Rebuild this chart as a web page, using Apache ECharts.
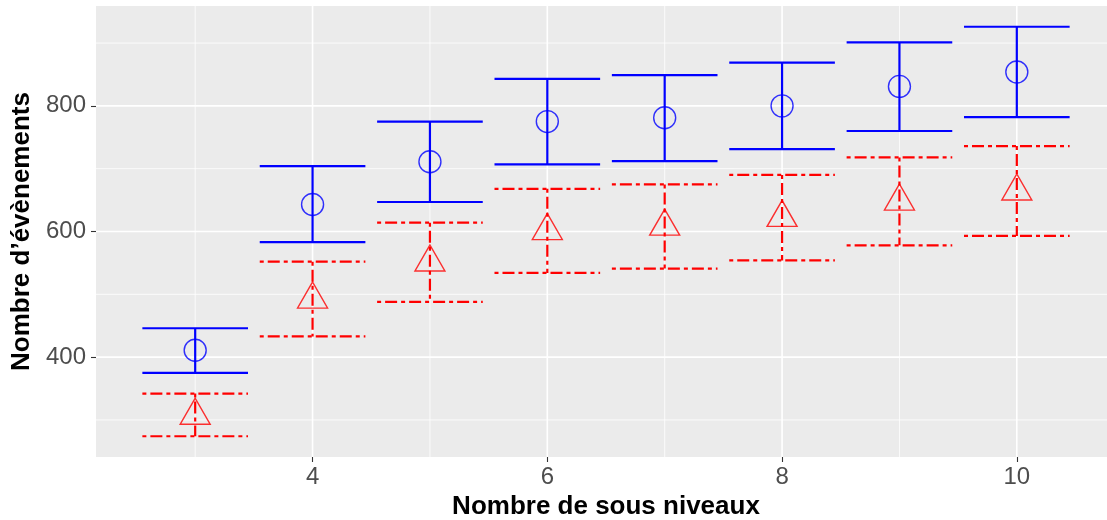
<!DOCTYPE html>
<html><head><meta charset="utf-8">
<script src="https://cdn.jsdelivr.net/npm/echarts@6/dist/echarts.min.js"></script>
<style>html,body{margin:0;padding:0;background:#fff;overflow:hidden;width:1107px;height:520px}#c{width:1116px;height:520px}</style>
</head><body><div id="c"></div>
<script>
const sousNiveaux = [3, 4, 5, 6, 7, 8, 9, 10];
const blueMean = [411, 643, 711, 775, 781, 800, 831, 854];
const blueLow  = [375, 583, 647, 707, 712, 731, 760, 782];
const blueHigh = [446, 704, 775, 843, 849, 869, 901, 926];
const redMean  = [307, 492, 551, 601, 608, 622, 648, 664];
const redLow   = [274, 433, 488, 534, 541, 554, 578, 593];
const redHigh  = [342, 552, 614, 668, 675, 690, 718, 736];
const xMajor = [4, 6, 8, 10];
const xMinor = [3, 5, 7, 9];
const yMajor = [400, 600, 800];
const yMinor = [300, 500, 700, 900];
const xTitle = 'Nombre de sous niveaux';
const yTitle = 'Nombre d’évènements';

const X_MIN = 2.155, X_MAX = 10.845, Y_MIN = 241, Y_MAX = 959;
const HALF = 0.45;
const FONT = '"Liberation Sans", Arial, sans-serif';

const gridData = [];
xMinor.forEach(v => gridData.push([v, 0, 0]));
yMinor.forEach(v => gridData.push([v, 1, 0]));
xMajor.forEach(v => gridData.push([v, 0, 1]));
yMajor.forEach(v => gridData.push([v, 1, 1]));

function gridRender(params, api) {
  const cs = params.coordSys;
  const v = api.value(0), dir = api.value(1), major = api.value(2);
  let shape;
  if (dir === 0) {
    const px = api.coord([v, Y_MIN])[0];
    shape = {x1: px, y1: cs.y, x2: px, y2: cs.y + cs.height};
  } else {
    const py = api.coord([X_MIN, v])[1];
    shape = {x1: cs.x, y1: py, x2: cs.x + cs.width, y2: py};
  }
  return {type: 'line', shape: shape, style: {stroke: '#FFFFFF', lineWidth: major ? 1.6 : 0.8}, silent: true};
}

function barRender(color, dash) {
  return function (params, api) {
    const x = api.value(0), lo = api.value(1), hi = api.value(2);
    const tl = api.coord([x - HALF, hi]), tr = api.coord([x + HALF, hi]);
    const bl = api.coord([x - HALF, lo]), br = api.coord([x + HALF, lo]);
    const mt = api.coord([x, hi]), mb = api.coord([x, lo]);
    const st = {stroke: color, lineWidth: 2.2, lineDash: dash, fill: null};
    return {type: 'group', children: [
      {type: 'line', shape: {x1: tl[0], y1: tl[1], x2: tr[0], y2: tr[1]}, style: st},
      {type: 'line', shape: {x1: mt[0], y1: mt[1], x2: mb[0], y2: mb[1]}, style: st},
      {type: 'line', shape: {x1: bl[0], y1: bl[1], x2: br[0], y2: br[1]}, style: st}
    ]};
  };
}

const chart = echarts.init(document.getElementById('c'), null, {renderer: 'canvas'});
chart.setOption({
  animation: false,
  backgroundColor: '#FFFFFF',
  grid: {left: 96, right: 0, top: 6, bottom: 63, show: true, backgroundColor: '#EBEBEB', borderWidth: 0,
    containLabel: false, outerBoundsMode: 'none'},
  xAxis: {
    type: 'value', min: X_MIN, max: X_MAX,
    name: xTitle, nameLocation: 'middle', nameGap: 36,
    nameTextStyle: {fontFamily: FONT, fontWeight: 'bold', fontSize: 26, color: '#000000'},
    axisLine: {show: false},
    axisTick: {show: true, length: 5, lineStyle: {color: '#333333', width: 1.1}, customValues: xMajor},
    axisLabel: {show: true, fontFamily: FONT, fontSize: 24, color: '#4D4D4D', margin: 8, customValues: xMajor},
    splitLine: {show: false}, minorSplitLine: {show: false}
  },
  yAxis: {
    type: 'value', min: Y_MIN, max: Y_MAX,
    name: yTitle, nameLocation: 'middle', nameGap: 60, nameRotate: 90,
    nameTextStyle: {fontFamily: FONT, fontWeight: 'bold', fontSize: 26, color: '#000000'},
    axisLine: {show: false},
    axisTick: {show: true, length: 5, lineStyle: {color: '#333333', width: 1.1}, customValues: yMajor},
    axisLabel: {show: true, fontFamily: FONT, fontSize: 24, color: '#4D4D4D', margin: 10, customValues: yMajor},
    splitLine: {show: false}, minorSplitLine: {show: false}
  },
  series: [
    {type: 'custom', z: 1, silent: true, renderItem: gridRender, data: gridData, encode: {x: 0, y: 1}, clip: false},
    {type: 'custom', z: 3, silent: true, renderItem: barRender('#0000FF', null),
      data: sousNiveaux.map((x, i) => [x, blueLow[i], blueHigh[i]]), encode: {x: 0, y: [1, 2]}},
    {type: 'custom', z: 3, silent: true, renderItem: barRender('#FF0000', [4, 4, 12, 4]),
      data: sousNiveaux.map((x, i) => [x, redLow[i], redHigh[i]]), encode: {x: 0, y: [1, 2]}},
    {type: 'scatter', z: 4, silent: true, symbol: 'circle', symbolSize: 22,
      itemStyle: {color: 'rgba(0,0,0,0)', borderColor: '#0000FF', borderWidth: 1.4},
      data: sousNiveaux.map((x, i) => [x, blueMean[i]])},
    {type: 'scatter', z: 4, silent: true, symbol: 'triangle', symbolSize: [30, 26], symbolOffset: [0, -4.3],
      itemStyle: {color: 'rgba(0,0,0,0)', borderColor: '#FF0000', borderWidth: 1.4},
      data: sousNiveaux.map((x, i) => [x, redMean[i]])}
  ]
});
</script>
</body></html>
